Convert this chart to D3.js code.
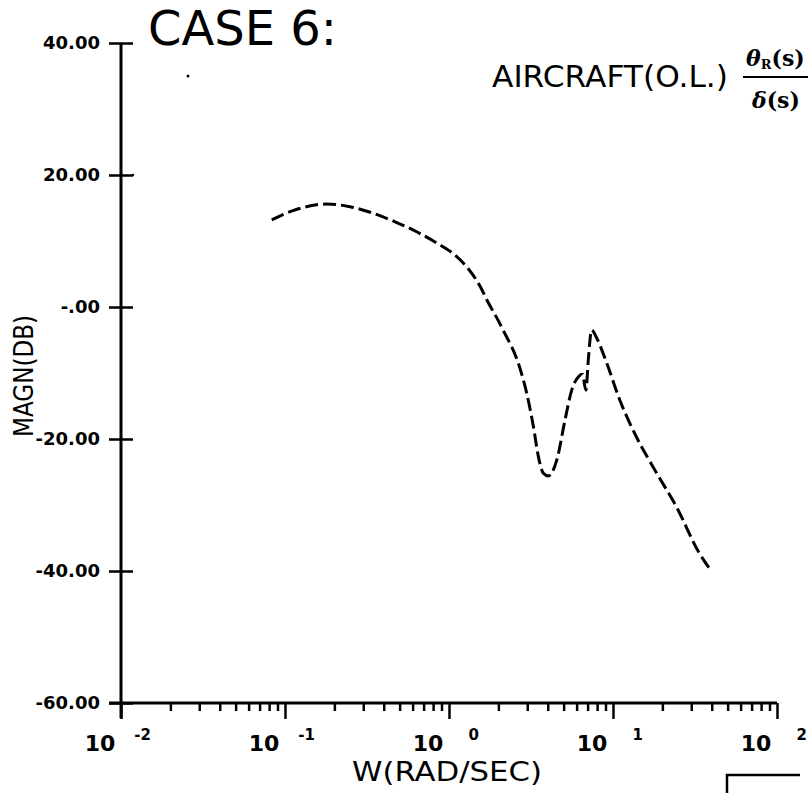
<!DOCTYPE html>
<html>
  <head>
    <meta charset="utf-8">
    <script src="https://cdn.jsdelivr.net/npm/d3@7/dist/d3.min.js" charset="utf-8"></script>
    <style>
      body { margin: 0; background: #fff; }
      svg { display: block; }
    </style>
  </head>
  <body>
    <script type="text/javascript">
      // Dados: frequencia (rad/s) e magnitude (dB)
      var freq  = [0.083, 0.112, 0.179, 0.249, 0.345, 0.480, 0.635, 0.841, 1.06, 1.28,
                   1.55, 1.70, 2.14, 2.71, 2.98, 3.27, 3.51, 3.76, 4.03, 4.54,
                   5.10, 5.60, 6.14, 6.50, 6.84, 7.07, 7.41, 7.95, 9.16, 11.0,
                   13.9, 18.5, 24.4, 33.6, 40.0];
      var magDb = [13.2, 14.6, 15.6, 15.2, 14.2, 12.8, 11.4, 9.7, 8.1, 6.1,
                   3.1, 1.1, -3.5, -9.3, -13.1, -18.1, -22.7, -25.2, -25.6, -23.2,
                   -17.1, -12.6, -10.6, -10.2, -12.6, -8.0, -3.5, -4.7, -8.5, -14.1,
                   -19.7, -25.2, -30.3, -37.3, -40.1];

      var yTicks = [40, 20, 0, -20, -40, -60];
      var yTickLabels = ["40.00", "20.00", "-.00", "-20.00", "-40.00", "-60.00"];
      var xDecades = [-2, -1, 0, 1, 2];

      var w = 808;
      var h = 793;

      var svg = d3.select("body")
                  .append("svg")
                    .attr("width", w)
                    .attr("height", h);

      var x = d3.scaleLog().domain([0.01, 100]).range([121, 777]);
      var y = d3.scaleLinear().domain([-60, 40]).range([703, 43]);

      var ink = "#000";

      // Marcas menores do eixo x (2..9 de cada decada)
      var minor = [];
      xDecades.slice(0, -1).forEach(function(e){
        for (var k = 2; k <= 9; k++) minor.push(k * Math.pow(10, e));
      });

      var gx = svg.append("g").attr("transform", "translate(0," + y(-60) + ")");
      gx.call(d3.axisBottom(x).tickValues(minor).tickSize(8).tickFormat(""));
      gx.append("g")
        .call(d3.axisBottom(x).tickValues(xDecades.map(function(e){ return Math.pow(10, e); }))
                .tickSize(16).tickFormat(""));
      gx.selectAll(".domain").remove();
      gx.selectAll(".tick line").attr("stroke", ink).attr("stroke-width", 2.5);

      // Linhas dos eixos
      svg.append("line")
         .attr("x1", x(0.01) - 12).attr("x2", x(100))
         .attr("y1", y(-60)).attr("y2", y(-60))
         .attr("stroke", ink).attr("stroke-width", 3);
      svg.append("line")
         .attr("x1", x(0.01)).attr("x2", x(0.01))
         .attr("y1", y(40)).attr("y2", y(-60) + 15)
         .attr("stroke", ink).attr("stroke-width", 3);

      // Eixo y: marcas cruzando o eixo
      var gyL = svg.append("g").attr("transform", "translate(" + x(0.01) + ",0)")
                   .call(d3.axisLeft(y).tickValues(yTicks).tickSize(12).tickFormat(""));
      var gyR = svg.append("g").attr("transform", "translate(" + x(0.01) + ",0)")
                   .call(d3.axisRight(y).tickValues(yTicks).tickSize(12).tickFormat(""));
      gyL.selectAll(".domain").remove();
      gyR.selectAll(".domain").remove();
      svg.selectAll("g line").attr("stroke", ink);
      gyL.selectAll(".tick line").attr("stroke-width", 2.5);
      gyR.selectAll(".tick line").attr("stroke-width", 2.5);

      // Rotulos do eixo y
      svg.selectAll("text.ylab")
         .data(yTicks)
         .enter()
         .append("text")
            .attr("class", "ylab")
            .text(function(d, i){ return yTickLabels[i]; })
            .attr("x", 100)
            .attr("y", function(d){ return y(d) + 6; })
            .attr("text-anchor", "end")
            .attr("font-family", "DejaVu Sans")
            .attr("font-weight", "bold")
            .attr("font-size", 18)
            .attr("fill", ink);

      // Rotulos do eixo x: 10 com expoente
      var xl = svg.selectAll("g.xlab")
                  .data(xDecades)
                  .enter()
                  .append("g")
                    .attr("class", "xlab")
                    .attr("transform", function(d){
                      return "translate(" + x(Math.pow(10, d)) + ",0)";
                    });
      xl.append("text")
        .text("10")
        .attr("x", -21)
        .attr("y", 751)
        .attr("text-anchor", "middle")
        .attr("font-family", "DejaVu Sans")
        .attr("font-weight", "bold")
        .attr("font-size", 22)
        .attr("fill", ink);
      xl.append("text")
        .text(function(d){ return d < 0 ? "-" + (-d) : String(d); })
        .attr("x", 30)
        .attr("y", 740)
        .attr("text-anchor", "end")
        .attr("font-family", "DejaVu Sans")
        .attr("font-weight", "bold")
        .attr("font-size", 15)
        .attr("fill", ink);

      // Titulos dos eixos
      svg.append("text")
         .text("W(RAD/SEC)")
         .attr("x", 352).attr("y", 781)
         .attr("textLength", 190).attr("lengthAdjust", "spacingAndGlyphs")
         .attr("font-family", "DejaVu Sans")
         .attr("font-size", 27)
         .attr("fill", ink);
      svg.append("text")
         .text("MAGN(DB)")
         .attr("transform", "translate(33,437) rotate(-90)")
         .attr("textLength", 122).attr("lengthAdjust", "spacingAndGlyphs")
         .attr("font-family", "DejaVu Sans")
         .attr("font-size", 26)
         .attr("fill", ink);

      // Titulo e legenda
      svg.append("text")
         .text("CASE 6:")
         .attr("x", 148).attr("y", 45)
         .attr("textLength", 189).attr("lengthAdjust", "spacingAndGlyphs")
         .attr("font-family", "DejaVu Sans")
         .attr("font-size", 48)
         .attr("fill", ink);
      svg.append("text")
         .text("AIRCRAFT(O.L.)")
         .attr("x", 492).attr("y", 87)
         .attr("textLength", 236).attr("lengthAdjust", "spacingAndGlyphs")
         .attr("font-family", "DejaVu Sans")
         .attr("font-size", 30)
         .attr("fill", ink);

      var num = svg.append("text")
                   .attr("x", 746).attr("y", 66)
                   .attr("font-family", "DejaVu Serif")
                   .attr("font-weight", "bold")
                   .attr("font-size", 22)
                   .attr("fill", ink);
      num.append("tspan").text("θ").attr("font-style", "italic");
      num.append("tspan").text("R").attr("font-size", 13).attr("dy", 3);
      num.append("tspan").text("(s)").attr("dy", -3);
      svg.append("line")
         .attr("x1", 743).attr("x2", 808)
         .attr("y1", 77).attr("y2", 77)
         .attr("stroke", ink).attr("stroke-width", 2);
      var den = svg.append("text")
                   .attr("x", 752).attr("y", 108)
                   .attr("font-family", "DejaVu Serif")
                   .attr("font-weight", "bold")
                   .attr("font-size", 22)
                   .attr("fill", ink);
      den.append("tspan").text("δ").attr("font-style", "italic");
      den.append("tspan").text("(s)");

      // Caixa no canto inferior direito
      svg.append("path")
         .attr("d", "M727,793V775H800")
         .attr("fill", "none")
         .attr("stroke", ink)
         .attr("stroke-width", 2.5);

      // Pontinhos da copia original
      svg.append("circle").attr("cx", 188).attr("cy", 76).attr("r", 1.5).attr("fill", ink);
      svg.append("circle").attr("cx", 133).attr("cy", 175).attr("r", 1.2).attr("fill", ink);

      // Curva de magnitude tracejada
      var pts = freq.map(function(f, i){ return [f, magDb[i]]; });
      var line = d3.line()
                   .x(function(d){ return x(d[0]); })
                   .y(function(d){ return y(d[1]); })
                   .curve(d3.curveMonotoneX);
      svg.append("path")
         .datum(pts)
         .attr("d", line)
         .attr("fill", "none")
         .attr("stroke", ink)
         .attr("stroke-width", 3)
         .attr("stroke-dasharray", "13,5");
    </script>
  </body>
</html>
